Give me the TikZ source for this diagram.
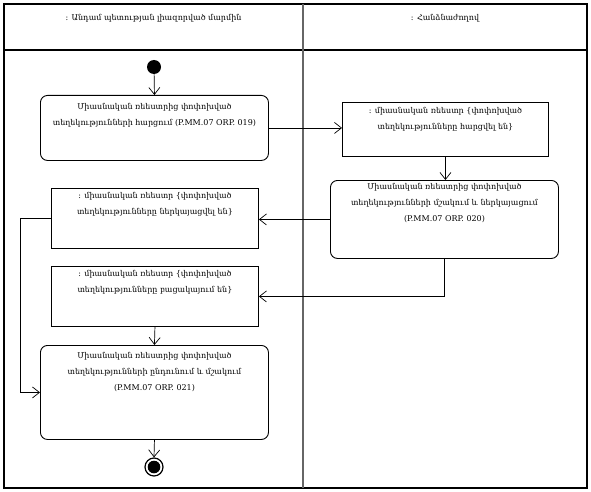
\documentclass[tikz,border=0pt]{standalone}
\usepackage{fontspec}
\setmainfont{DejaVu Serif}
\usetikzlibrary{arrows.meta}
\begin{document}
\begin{tikzpicture}[x=1pt,y=-1pt,
  txt/.style={font=\fontsize{8}{16}\selectfont},
  act/.style={draw, rounded corners=7pt, line width=0.9pt, inner sep=0pt, anchor=north west, txt},
  obj/.style={draw, line width=0.9pt, inner sep=0pt, anchor=north west, txt},
  flow/.style={draw, line width=0.7pt, -{Straight Barb[length=7pt,width=11pt]}},
  frame/.style={line width=1.1pt},
  lane/.style={line width=1.8pt, black!60}
]
\useasboundingbox (0,0) rectangle (591,492);
\draw[frame] (4,4) rectangle (587,488);
\draw[frame] (4,50) -- (587,50);
\draw[lane] (303,4) -- (303,488);
\node[txt] (h1) at (153.5,18) {: Անդամ պետության լիազորված մարմին};
\node[txt] (h2) at (445,18) {: Հանձնաժողով};
\node[circle, fill, minimum size=14pt, inner sep=0pt] (start) at (154,67) {};
\node[act] (b1) at (40,95) {\parbox[c][65pt][t]{228pt}{\centering\rule{0pt}{14pt}Միասնական ռեեստրից փոփոխված\\ տեղեկությունների հարցում (P.MM.07 ORP. 019)}};
\node[obj] (b2) at (342,102) {\parbox[c][54pt][t]{206pt}{\centering\rule{0pt}{11pt}: միասնական ռեեստր \{փոփոխված\\ տեղեկությունները հարցվել են\}}};
\node[act] (b3) at (330,180) {\parbox[c][78pt][t]{228pt}{\centering\rule{0pt}{9pt}Միասնական ռեեստրից փոփոխված\\ տեղեկությունների մշակում և ներկայացում\\ (P.MM.07 ORP. 020)}};
\node[obj] (b4) at (51,188) {\parbox[c][60pt][t]{207pt}{\centering\rule{0pt}{10pt}: միասնական ռեեստր \{փոփոխված\\ տեղեկությունները ներկայացվել են\}}};
\node[obj] (b5) at (51,266) {\parbox[c][60pt][t]{207pt}{\centering\rule{0pt}{10pt}: միասնական ռեեստր \{փոփոխված\\ տեղեկությունները բացակայում են\}}};
\node[act] (b6) at (40,345) {\parbox[c][94pt][t]{228pt}{\centering\rule{0pt}{13pt}Միասնական ռեեստրից փոփոխված\\ տեղեկությունների ընդունում և մշակում\\ (P.MM.07 ORP. 021)}};
\node[circle, draw, line width=1.2pt, minimum size=18pt, inner sep=0pt,
  path picture={\fill (path picture bounding box.center) circle (6.3pt);}] (end) at (154,467) {};
\coordinate (lp) at (20,0);
\draw[flow] (start) -- (b1.north);
\draw[flow] (b1.east) -- (b1.east -| b2.west);
\draw[flow] (b2.south) -- (b2.south |- b3.north);
\draw[flow] (b3.west) -- (b3.west -| b4.east);
\draw[flow] (b3.south) |- (b5.east);
\draw[flow] (b4.west) -- (b4.west -| lp) |- (b6.west);
\draw[flow] (b5.south) -- (b6.north);
\draw[flow] (b6.south) -- (end.north);
\end{tikzpicture}
\end{document}
